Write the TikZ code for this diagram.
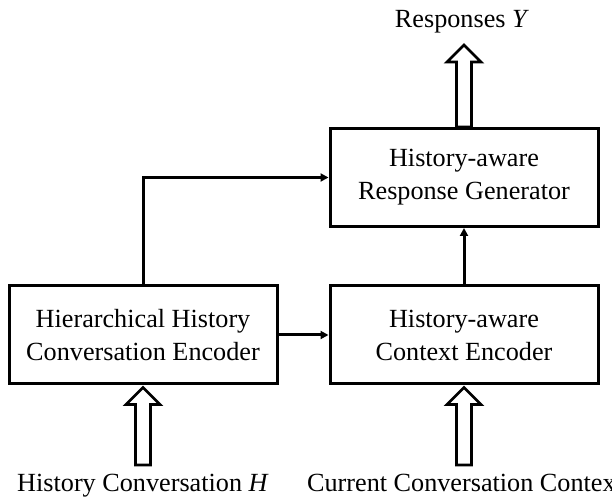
\documentclass[tikz,border=0pt]{standalone}
\usepackage{fontspec}
\setmainfont{Liberation Serif}
\usetikzlibrary{arrows.meta,calc}

\tikzset{
  block/.style={draw, line width=1.5pt, minimum width=134pt, minimum height=49pt,
    align=center, inner sep=0pt, font=\fontsize{13.1}{16.5}\selectfont},
  conn/.style={line width=1.5pt, -{Triangle[length=4pt,width=4pt]}},
  hollow/.style={draw, line width=1.4pt, fill=white, line join=miter},
  iotext/.style={inner sep=0pt, anchor=base, font=\fontsize{13.1}{15}\selectfont}
}

% fat open arrow: #1 base of shaft, #2 tip
\newcommand{\hollowarrow}[2]{%
  \draw[hollow] ($(#1)+(-7.5,0)$) -- ($(#2)+(-7.5,-17)$) -- ($(#2)+(-17,-17)$) -- (#2)
    -- ($(#2)+(17,-17)$) -- ($(#2)+(7.5,-17)$) -- ($(#1)+(7.5,0)$) -- cycle;}

\begin{document}
\begin{tikzpicture}[x=0.5pt,y=0.5pt]
    \useasboundingbox (0,0) rectangle (612,499);
    % blocks
    \node[block] (gen) at (464,321.5) {History-aware\\Response Generator};
    \node[block] (hist) at (143,164) {Hierarchical History\\Conversation Encoder};
    \node[block] (ctx) at (464,164) {History-aware\\Context Encoder};
    % inputs and output
    \node[iotext] (out) at (462,471) {Responses \textit{Y}};
    \node[iotext] (hin) at (143,7) {History Conversation \textit{H}};
    \node[iotext] (cin) at (465,7) {Current Conversation Context};
    \coordinate (outtip) at (464,454);
    \coordinate (hbase) at (143,34);
    \coordinate (cbase) at (464,34);
    % connectors
    \draw[conn] (hist.north) |- (gen.west);
    \draw[conn] (hist.east) -- (ctx.west);
    \draw[conn] (ctx.north) -- (gen.south);
    \hollowarrow{gen.north}{outtip}
    \hollowarrow{hbase}{$(hist.south)+(0,-2)$}
    \hollowarrow{cbase}{$(ctx.south)+(0,-2)$}
\end{tikzpicture}
\end{document}
